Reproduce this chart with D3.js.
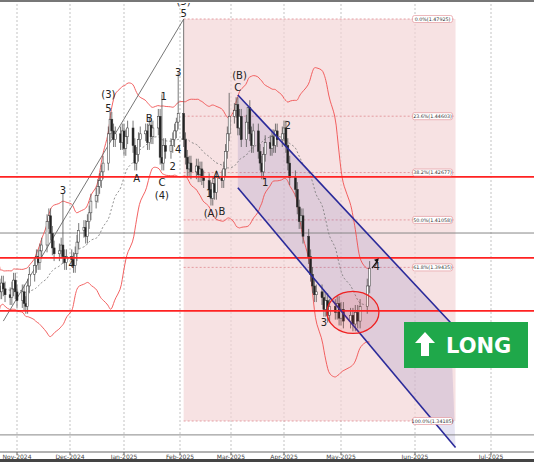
<!DOCTYPE html>
<html><head><meta charset="utf-8">
<script src="https://cdn.jsdelivr.net/npm/d3@7"></script>
<style>body{margin:0;background:#fff}svg{display:block;font-family:"DejaVu Sans",Arial,sans-serif}</style>
</head><body><div id="chart"></div>
<script>
const W = 534, H = 462;

// month ticks
const tickDates = ["2024-10-01","2024-11-01","2024-12-01","2025-01-01","2025-02-01","2025-03-01","2025-04-01","2025-05-01","2025-06-01","2025-07-01","2025-08-01"];
const tickLabels = ["Oct-2024","Nov-2024","Dec-2024","Jan-2025","Feb-2025","Mar-2025","Apr-2025","May-2025","Jun-2025","Jul-2025","Jul-2025"];

// daily closes, one week per row, starting Mon 21 Oct 2024
const closes = [
  1.388,1.386,1.389,1.387,1.385,
  1.384,1.387,1.390,1.386,1.383,
  1.386,1.382,1.381,1.388,1.392,
  1.395,1.398,1.396,1.400,1.402,
  1.410,1.412,1.406,1.401,1.399,
  1.400,1.402,1.398,1.396,1.398,
  1.397,1.395,1.399,1.403,1.407,
  1.408,1.405,1.410,1.413,1.417,
  1.419,1.422,1.424,1.427,1.430,
  1.440,1.445,1.441,1.438,1.440,
  1.437,1.441,1.435,1.439,1.442,
  1.436,1.430,1.433,1.438,1.440,
  1.441,1.437,1.443,1.439,1.442,
  1.446,1.432,1.430,1.436,1.434,
  1.436,1.438,1.441,1.444,1.447,
  1.438,1.432,1.428,1.430,1.427,
  1.429,1.426,1.428,1.425,1.424,
  1.421,1.418,1.423,1.420,1.425,
  1.424,1.428,1.434,1.440,1.446,
  1.448,1.450,1.442,1.446,1.438,
  1.444,1.449,1.440,1.436,1.441,
  1.434,1.430,1.427,1.433,1.437,
  1.435,1.439,1.436,1.441,1.438,
  1.440,1.442,1.436,1.430,1.425,
  1.421,1.415,1.410,1.412,1.405,
  1.398,1.392,1.388,1.385,1.386,
  1.384,1.380,1.383,1.378,1.381,
  1.379,1.382,1.377,1.380,1.376,
  1.378,1.375,1.379,1.376,1.381,
  1.388,1.394
];
// single-bar spikes (index -> high)
const spikeIdx = [27, 67, 73, 74, 75, 94, 101];
const spikeHigh = [1.4195, 1.4535, 1.4455, 1.4610, 1.4792, 1.4540, 1.4440];

// fibonacci levels
const fibPct = ["0.0%","23.6%","38.2%","50.0%","61.8%","100.0%"];
const fibVal = [1.47925,1.44603,1.42677,1.41058,1.39435,1.34185];
const fibStart = "2025-02-03", fibEnd = "2025-06-17";

const redLevels = [1.4253, 1.3976, 1.3795];
const grayLevels = [1.4061, 1.3371];

// channel: [date, price]
const chanUpper = [["2025-03-05",1.4533],["2025-06-15",1.3755]];
const chanLower = [["2025-03-05",1.4216],["2025-06-17",1.3328]];
const trendLine = [["2024-10-24",1.3760],["2025-02-03",1.4792]];

// wave labels: date, price, text
const waveDates = ["2025-02-03","2025-02-03","2024-12-23","2024-12-23","2024-11-27","2024-12-02","2025-01-15","2025-01-23","2025-01-31","2025-01-08","2025-01-22","2025-01-22","2025-01-28","2025-01-31","2025-02-17","2025-02-21","2025-02-18","2025-02-24","2025-03-06","2025-03-05","2025-03-21","2025-04-03","2025-04-22","2025-05-16"];
const wavePrice = [1.4851,1.4810,1.4533,1.4488,1.4208,1.3952,1.4454,1.4526,1.4611,1.4249,1.4232,1.4188,1.4287,1.4345,1.4195,1.4256,1.4129,1.4136,1.4598,1.4557,1.4235,1.4430,1.3754,1.3948];
const waveText = ["(5)","5","(3)","5","3","4","B","1","3","A","C","(4)","2","4","1","A","(A)","B","(B)","C","1","2","3","4"];

const x = d3.scaleTime()
  .domain(tickDates.map(d => new Date(d)))
  .range([-36,17,70,124,180,231,284,341,415,491,567]);
const y = d3.scaleLinear().domain([1.34185,1.47925]).range([421,19]);

const svg = d3.select("#chart").append("svg").attr("width",W).attr("height",H);
const plot = svg.append("g");
const clip = svg.append("clipPath").attr("id","c").append("rect").attr("x",0).attr("y",3).attr("width",W).attr("height",449);
plot.attr("clip-path","url(#c)");

// grid
plot.selectAll(".vg").data(tickDates).join("line")
  .attr("x1",d=>x(new Date(d))).attr("x2",d=>x(new Date(d)))
  .attr("y1",0).attr("y2",452).attr("stroke","#aaa").attr("stroke-dasharray","2,2").attr("stroke-width",0.7);

// fib box
const fx0 = x(new Date(fibStart)), fx1 = x(new Date(fibEnd));
plot.append("rect").attr("x",fx0).attr("y",y(fibVal[0])).attr("width",fx1-fx0)
  .attr("height",y(fibVal[5])-y(fibVal[0])).attr("fill","#f3d2d4").attr("opacity",0.65);
plot.selectAll(".fl").data(fibVal).join("line")
  .attr("x1",fx0).attr("x2",fx1).attr("y1",d=>y(d)).attr("y2",d=>y(d))
  .attr("stroke","#e08a90").attr("stroke-dasharray","2,2").attr("stroke-width",0.8);

// channel fill
const P = a => [x(new Date(a[0])), y(a[1])];
plot.append("path")
  .attr("d","M"+[P(chanUpper[0]),P(chanUpper[1]),P(chanLower[1]),P(chanLower[0])].join("L")+"Z")
  .attr("fill","#6a5fb0").attr("opacity",0.17);

// horizontal levels
plot.selectAll(".gl").data(grayLevels).join("line")
  .attr("x1",0).attr("x2",W).attr("y1",d=>y(d)).attr("y2",d=>y(d)).attr("stroke","#888").attr("stroke-width",1);

// bollinger bands (20, 2)
const dates = [];
{ let d = new Date("2024-10-21"); while (dates.length < closes.length) { if (d.getDay()%6!==0) dates.push(new Date(d)); d.setDate(d.getDate()+1); } }
const band = [];
for (let i = 0; i < closes.length; i++) {
  const s = closes.slice(Math.max(0,i-19), i+1);
  const m = d3.mean(s), sd = s.length > 1 ? d3.deviation(s) : 0.004;
  band.push({d:dates[i], m, u:m+2*sd+0.003, l:m-2*sd-0.003});
}
const ln = k => d3.line().curve(d3.curveBasis).x(b=>x(b.d)).y(b=>y(b[k]));
plot.append("path").datum(band).attr("d",ln("m")).attr("fill","none").attr("stroke","#777").attr("stroke-dasharray","2,2").attr("stroke-width",0.8);
["u","l"].forEach(k => plot.append("path").datum(band).attr("d",ln(k)).attr("fill","none").attr("stroke","#f05050").attr("stroke-width",0.9));

// trend line
plot.append("line").attr("x1",P(trendLine[0])[0]).attr("y1",P(trendLine[0])[1])
  .attr("x2",P(trendLine[1])[0]).attr("y2",P(trendLine[1])[1]).attr("stroke","#777").attr("stroke-width",1);

// bars
const bars = closes.map((c,i) => {
  const o = i ? closes[i-1] : c;
  const si = spikeIdx.indexOf(i);
  return {d:dates[i], o, c, h: si>=0 ? spikeHigh[si] : Math.max(o,c)+0.0025, l: Math.min(o,c)-0.0025};
});
plot.selectAll(".wk").data(bars).join("line")
  .attr("x1",b=>x(b.d)).attr("x2",b=>x(b.d)).attr("y1",b=>y(b.h)).attr("y2",b=>y(b.l))
  .attr("stroke","#555").attr("stroke-width",0.8);
plot.selectAll(".bd").data(bars).join("rect")
  .attr("x",b=>x(b.d)-1).attr("width",2)
  .attr("y",b=>y(Math.max(b.o,b.c))).attr("height",b=>Math.max(1,Math.abs(y(b.o)-y(b.c))))
  .attr("fill",b=>b.c>=b.o?"#fff":"#222").attr("stroke","#333").attr("stroke-width",0.5);

// red levels
plot.selectAll(".rl").data(redLevels).join("line")
  .attr("x1",0).attr("x2",W).attr("y1",d=>y(d)).attr("y2",d=>y(d)).attr("stroke","#f22").attr("stroke-width",1.6);

// channel lines
[chanUpper, chanLower].forEach(c => plot.append("line")
  .attr("x1",P(c[0])[0]).attr("y1",P(c[0])[1]).attr("x2",P(c[1])[0]).attr("y2",P(c[1])[1])
  .attr("stroke","#2a2a9a").attr("stroke-width",1.6));

// fib labels
const fg = plot.selectAll(".fg").data(fibVal).join("g")
  .attr("transform",d=>`translate(${fx1-23},${y(d)})`);
fg.append("rect").attr("x",-20).attr("y",-3.5).attr("width",40).attr("height",7).attr("rx",2)
  .attr("fill","#fff").attr("stroke","#e08a90").attr("stroke-width",0.6);
fg.append("text").attr("text-anchor","middle").attr("dy","0.35em").attr("font-size",4.8).attr("fill","#333")
  .text((d,i)=>`${fibPct[i]}(${d.toFixed(5)})`);

// red ellipse
plot.append("ellipse").attr("cx",x(new Date("2025-05-06"))).attr("cy",y(1.3790)).attr("rx",26).attr("ry",21)
  .attr("fill","#f33").attr("fill-opacity",0.12).attr("stroke","#e22").attr("stroke-width",1.3);

// wave labels
plot.selectAll(".wl").data(waveText).join("text")
  .attr("x",(t,i)=>x(new Date(waveDates[i]))).attr("y",(t,i)=>y(wavePrice[i]))
  .attr("text-anchor","middle").attr("dy","0.35em").attr("font-size",10).attr("fill","#222").text(t=>t);

// arrow toward wave 4
const ax = x(new Date("2025-05-14")), ay = y(1.3968);
plot.append("path").attr("d",`M${ax},${ay+8}L${ax+6},${ay}`).attr("stroke","#111").attr("stroke-width",1.2);
plot.append("path").attr("d",`M${ax+7},${ay-2}l-5,1.5l3,3z`).attr("fill","#111");

// LONG box
const lg = svg.append("g").attr("transform","translate(404,322)");
lg.append("rect").attr("width",124).attr("height",46).attr("fill","#1fa84a");
lg.append("path").attr("d","M21,10L31,21L25,21L25,34L17,34L17,21L11,21Z").attr("fill","#fff");
lg.append("text").attr("x",42).attr("y",31).attr("font-size",21).attr("font-weight","bold").attr("fill","#fff").text("LONG");

// frame + axis
svg.append("rect").attr("width",W).attr("height",2).attr("fill","#777");
svg.append("line").attr("x1",0).attr("x2",W).attr("y1",452).attr("y2",452).attr("stroke","#666");
svg.append("rect").attr("y",459).attr("width",W).attr("height",3).attr("fill","#444");
const ax2 = svg.selectAll(".tl").data(tickDates.slice(1)).join("g")
  .attr("transform",d=>`translate(${x(new Date(d))},452)`);
ax2.append("line").attr("y2",3).attr("stroke","#666");
ax2.append("text").attr("y",7).attr("text-anchor","middle").attr("font-size",6).attr("fill","#444")
  .text((d,i)=>tickLabels[i+1]);
</script></body></html>
